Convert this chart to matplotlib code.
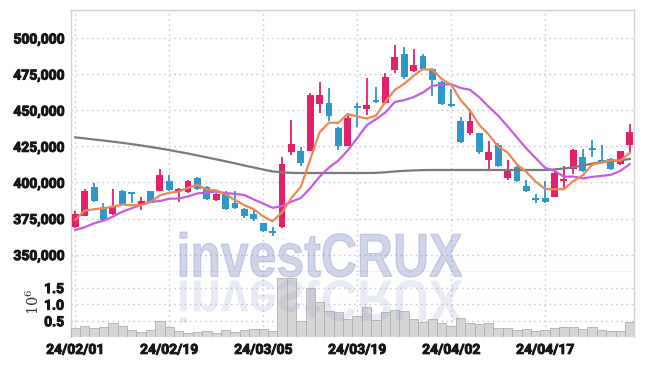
import matplotlib
matplotlib.use('Agg')
import matplotlib.pyplot as plt
import numpy as np
from matplotlib.textpath import TextPath
from matplotlib.patches import PathPatch
from matplotlib.font_manager import FontProperties
from matplotlib.transforms import Affine2D
from matplotlib.ticker import FuncFormatter
import matplotlib.patheffects as pe

plt.rcParams['font.family'] = ['Roboto', 'DejaVu Sans']

dates = ['24/02/01', '24/02/02', '24/02/05', '24/02/06', '24/02/07', '24/02/08', '24/02/13', '24/02/14',
         '24/02/15', '24/02/16', '24/02/19', '24/02/20', '24/02/21', '24/02/22', '24/02/23', '24/02/26',
         '24/02/27', '24/02/28', '24/02/29', '24/03/04', '24/03/05', '24/03/06', '24/03/07', '24/03/08',
         '24/03/11', '24/03/12', '24/03/13', '24/03/14', '24/03/15', '24/03/18', '24/03/19', '24/03/20',
         '24/03/21', '24/03/22', '24/03/25', '24/03/26', '24/03/27', '24/03/28', '24/03/29', '24/04/01',
         '24/04/02', '24/04/03', '24/04/04', '24/04/05', '24/04/08', '24/04/09', '24/04/11', '24/04/12',
         '24/04/15', '24/04/16', '24/04/17', '24/04/18', '24/04/19', '24/04/22', '24/04/23', '24/04/24',
         '24/04/25', '24/04/26', '24/04/29', '24/04/30']

opens = [369300, 376900, 396800, 382800, 378100, 393800, 392300, 385000, 393800, 394300,
         401000, 393800, 393600, 402800, 397000, 387800, 392400, 385500, 381600, 377900,
         371700, 365700, 369300, 420800, 421800, 421900, 454100, 455000, 437500, 425400,
         452000, 451000, 457000, 454800, 477800, 488900, 477100, 487500, 478300, 469500,
         453300, 442500, 434400, 434000, 415500, 425900, 403300, 410500, 397500, 388000,
         389400, 390100, 400800, 409300, 417400, 422600, 414800, 416200, 412500, 425900]
highs = [380200, 395200, 399400, 385500, 395200, 394500, 393600, 390100, 394200, 409100,
         405100, 396000, 401500, 404000, 397500, 392500, 394000, 394000, 382500, 381000,
         372000, 369300, 417400, 443200, 424700, 462000, 469300, 465600, 438500, 447900,
         454800, 472100, 465900, 475500, 495100, 494000, 492200, 488900, 479000, 470500,
         464500, 445500, 450600, 434500, 428900, 427500, 415500, 411200, 401700, 391800,
         401000, 408500, 411600, 423000, 422900, 429400, 425900, 417000, 422000, 440200]
lows = [368400, 376500, 386500, 373500, 377500, 384500, 385500, 380900, 385500, 394000,
        394000, 386200, 393000, 395000, 388000, 387000, 381000, 381500, 375500, 373500,
        366000, 362900, 368500, 419000, 411600, 421500, 447900, 442700, 422400, 425000,
        438600, 446700, 454800, 454500, 475500, 471600, 476500, 477500, 459800, 453600,
        452500, 427500, 432800, 420000, 408100, 411000, 401700, 400500, 393100, 385500,
        385800, 390000, 395900, 405800, 407500, 417800, 414000, 408500, 412000, 420100]
closes = [378100, 394000, 387100, 374000, 382800, 385000, 392000, 387100, 385500, 405100,
          394500, 395400, 401000, 395400, 388500, 392000, 381400, 382100, 376900, 374700,
          366600, 365300, 412700, 426400, 413600, 460500, 460500, 446000, 425400, 444800,
          451500, 453600, 455700, 472800, 486600, 472800, 481300, 478700, 470900, 454300,
          452900, 428200, 442500, 420800, 420800, 411600, 407900, 401200, 394300, 387600,
          386200, 406800, 401700, 422400, 407900, 422300, 414400, 409100, 421700, 434700]

ma5 = [374000, 380400, 381400, 382100, 383200, 384580, 384180, 384180, 386480, 390940,
       392840, 393520, 396300, 398280, 394960, 394460, 391660, 387880, 384180, 381420,
       376340, 373120, 379240, 389140, 396920, 415700, 434740, 441400, 441200, 447440,
       445640, 444260, 446200, 455680, 464040, 468300, 473840, 478440, 478060, 471600,
       467620, 457000, 449760, 439740, 433040, 424780, 420720, 412460, 407160, 400520,
       395440, 395220, 395320, 400940, 405000, 412220, 413740, 415220, 415080, 420440]
ma10 = [367040, 368900, 371700, 373480, 376250, 379710, 382070, 384350, 386640, 387070,
        388710, 388850, 390240, 392380, 392950, 393650, 392590, 392090, 391230, 388190,
        385400, 382390, 383560, 386660, 389170, 396020, 403930, 410320, 415170, 422180,
        430670, 439500, 443800, 448440, 455740, 456970, 459050, 462320, 466870, 467820,
        467960, 465420, 464100, 458900, 452320, 446200, 438860, 431110, 423450, 416780,
        410110, 407970, 403890, 404050, 402760, 403830, 404480, 405270, 408010, 412720]
ma_long = [431200, 430500, 429700, 429000, 428200, 427400, 426500, 425600, 424600, 423500,
           422400, 421200, 420000, 418700, 417300, 416000, 414600, 413200, 411700, 410300,
           408900, 407600, 407000, 406600, 406500, 406500, 406500, 406500, 406500, 406500,
           406500, 406500, 406600, 407000, 407600, 408000, 408300, 408500, 408600, 408600,
           408600, 408600, 408600, 408600, 408600, 408600, 408600, 408600, 408600, 408600,
           408600, 409000, 409600, 410500, 411700, 413000, 414100, 414700, 415200, 416200]

volume_m = [0.27, 0.33, 0.27, 0.30, 0.43, 0.33, 0.21, 0.16, 0.21, 0.48,
            0.30, 0.19, 0.13, 0.16, 0.19, 0.13, 0.21, 0.16, 0.21, 0.24,
            0.24, 0.19, 1.79, 1.79, 0.48, 1.48, 1.07, 0.78, 0.76, 0.55,
            0.64, 0.91, 0.52, 0.76, 0.82, 0.79, 0.55, 0.46, 0.55, 0.43,
            0.33, 0.58, 0.43, 0.39, 0.43, 0.27, 0.27, 0.21, 0.24, 0.19,
            0.21, 0.27, 0.30, 0.30, 0.24, 0.30, 0.21, 0.18, 0.18, 0.45]

price_ticks = [350000, 375000, 400000, 425000, 450000, 475000, 500000]
vol_ticks = [0.5, 1.0, 1.5]
date_tick_labels = ['24/02/01', '24/02/19', '24/03/05', '24/03/19', '24/04/02', '24/04/17']

UP = '#e3206a'
DOWN = '#2f97c9'
GRID = '#c9cadf'
TXT = '#161616'
bold_fx = [pe.withStroke(linewidth=0.7, foreground=TXT)]

W, H = 645, 366
fig = plt.figure(figsize=(W / 100, H / 100), dpi=100)
ax = fig.add_axes([71 / W, 1 - 272 / H, (634 - 71) / W, (272 - 10) / H])
axv = fig.add_axes([71 / W, 1 - 337.3 / H, (634 - 71) / W, (337.3 - 272) / H], sharex=ax)

x = np.arange(len(dates))
o = np.array(opens); h = np.array(highs); l = np.array(lows); c = np.array(closes)
up = c >= o
cols = np.where(up, UP, DOWN)

ax.vlines(x, l, h, colors=cols, linewidth=1.3, zorder=3)
body_lo = np.minimum(o, c)
body_h = np.maximum(np.abs(c - o), 1300)
ax.bar(x, body_h, bottom=body_lo, width=0.74, color=cols, zorder=4, linewidth=0)

ax.plot(x, ma_long, color='#7a7a7a', lw=1.6, zorder=5)
ax.plot(x, ma10, color='#c45ce8', lw=1.6, zorder=5)
ax.plot(x, ma5, color='#ef8850', lw=1.6, zorder=5)

ax.set_ylim(337955, 519390)
ax.set_xlim(-0.45, 59.45)
ax.set_yticks(price_ticks)
ax.yaxis.set_major_formatter(FuncFormatter(lambda v, p: f'{int(v):,}'))
tick_idx = [dates.index(d) for d in date_tick_labels]
ax.set_xticks(tick_idx)
ax.tick_params(axis='x', labelbottom=False, length=0)
ax.tick_params(axis='y', length=0, pad=5, labelsize=10, labelcolor=TXT)
for lab in ax.get_yticklabels():
    lab.set_fontweight('bold')
    lab.set_path_effects(bold_fx)
ax.grid(True, color=GRID, linestyle=(0, (1.2, 2.5)), linewidth=1.0, zorder=0)
for s in ax.spines.values():
    s.set_color('#d2d2d2')
    s.set_linewidth(1.0)
ax.spines['bottom'].set_color('#c4c4c4')

axv.bar(x, volume_m, width=1.0, color='#d6d6d6', edgecolor='#b0b0b0', linewidth=0.6, zorder=3)
axv.set_ylim(0, 1.97)
axv.set_yticks(vol_ticks)
axv.set_yticklabels(['0.5', '1.0', '1.5'])
axv.set_xticks(tick_idx)
axv.set_xticklabels(date_tick_labels)
axv.tick_params(axis='both', length=0, labelcolor=TXT)
axv.tick_params(axis='y', pad=5, labelsize=10)
axv.tick_params(axis='x', pad=4, labelsize=10)
for lab in axv.get_yticklabels() + axv.get_xticklabels():
    lab.set_fontweight('bold')
    lab.set_path_effects(bold_fx)
axv.grid(True, color=GRID, linestyle=(0, (1.2, 2.5)), linewidth=1.0, zorder=0)
for s in axv.spines.values():
    s.set_color('#d2d2d2')
    s.set_linewidth(1.0)
axv.spines['top'].set_visible(False)
axv.spines['bottom'].set_visible(False)
fig.text(33 / W, 1 - 302 / H, r'$10^6$', rotation=90, ha='center', va='center',
         fontsize=10.5, color='#333333', math_fontfamily='dejavuserif')

# watermark
fp = FontProperties(family='Liberation Sans', weight='bold')
tp = TextPath((0, 0), 'investCRUX', size=100, prop=fp)
bb = tp.get_extents()
x0, x1 = 180, 462
top_img, base_img = 232, 277
sx = (x1 - x0) / bb.width
sy = (base_img - top_img) / bb.height
t_main = Affine2D().translate(-bb.x0, -bb.y0).scale(sx, sy).translate(x0, H - base_img)
fig.add_artist(PathPatch(tp, transform=t_main, facecolor='#7f8cc4', edgecolor='#7f8cc4',
                         linewidth=0.8, alpha=0.36, zorder=10))
t_ref = Affine2D().translate(-bb.x0, -bb.y0).scale(sx, -sy * 0.95).translate(x0, H - 280)
fig.add_artist(PathPatch(tp, transform=t_ref, facecolor='#8f9acb', edgecolor='none',
                         alpha=0.2, zorder=10))

fig.savefig('out.png', dpi=100)
